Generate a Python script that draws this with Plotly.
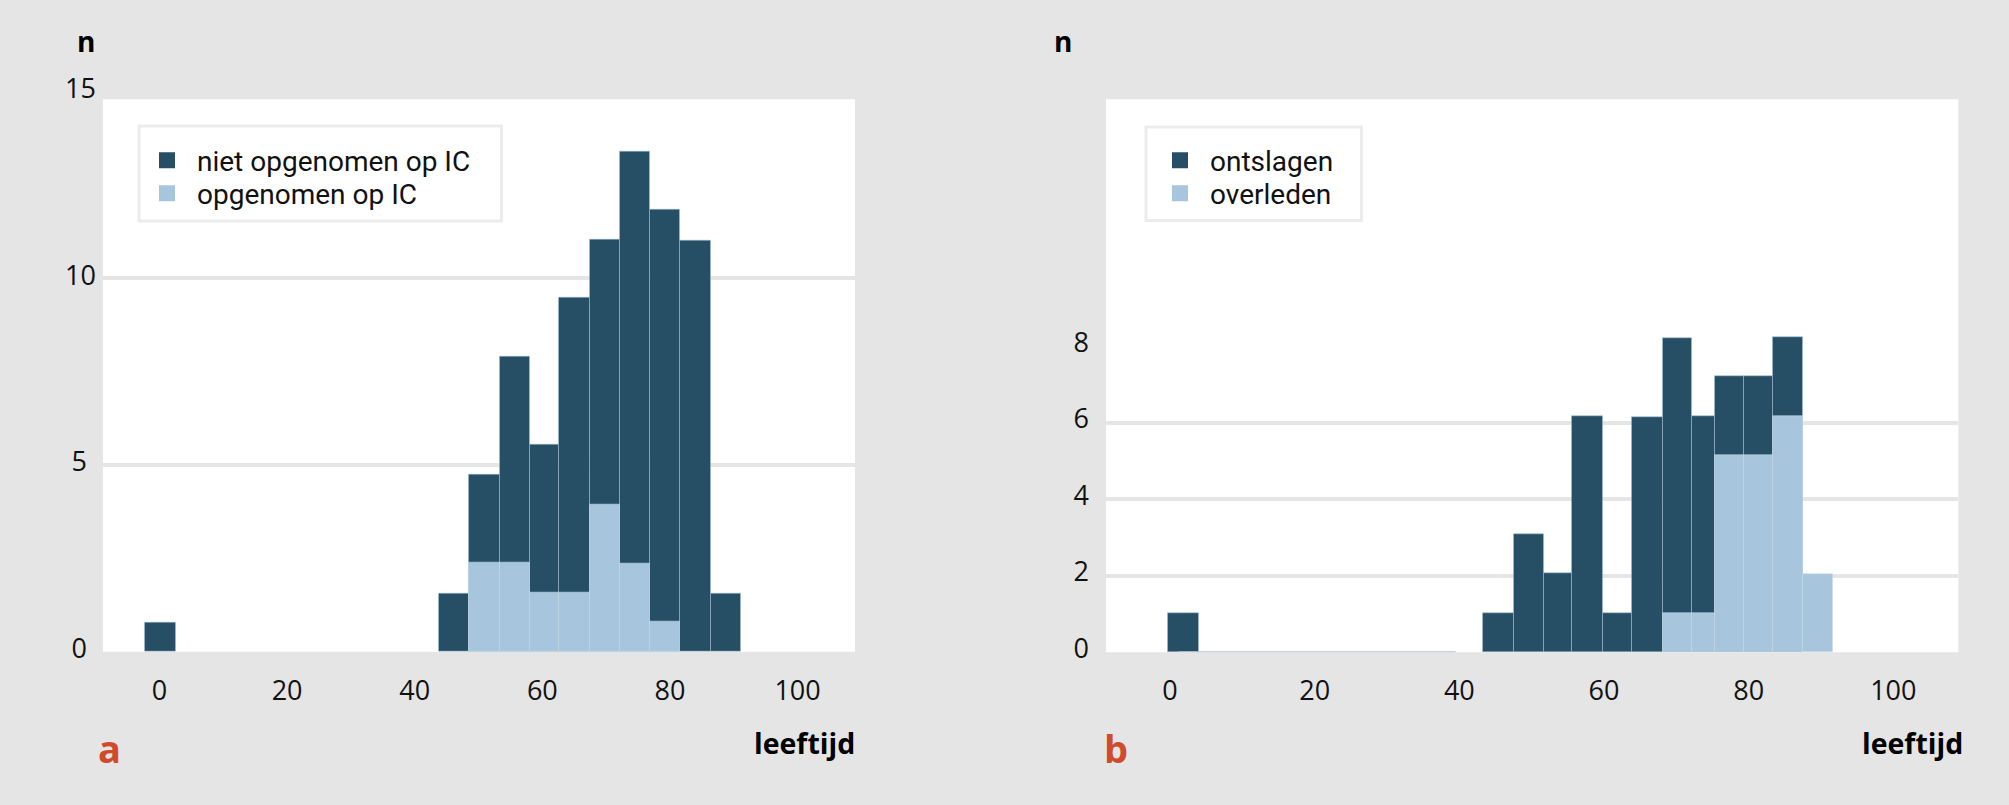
import plotly.graph_objects as go

# ---------------- data ----------------
# panel a: leeftijd bins (left/right edges) and heights
a_bin_left = [-2.3, 43.8, 48.5, 53.3, 58.0, 62.6, 67.4, 72.1, 76.9, 81.6, 86.4]
a_bin_right = [2.6, 48.5, 53.3, 58.0, 62.6, 67.4, 72.1, 76.9, 81.6, 86.4, 91.1]
a_niet_ic = [0.78, 1.55, 4.73, 7.89, 5.54, 9.49, 11.03, 13.39, 11.84, 11.0, 1.55]
a_ic_left = [48.5, 53.3, 58.0, 62.6, 67.4, 72.1, 76.9]
a_ic_right = [53.3, 58.0, 62.6, 67.4, 72.1, 76.9, 81.6]
a_ic = [2.38, 2.38, 1.58, 1.58, 3.93, 2.35, 0.8]

# panel b
b_ont_left = [-0.3, 43.3, 47.5, 51.7, 55.6, 59.8, 63.9, 68.1, 72.2, 75.4, 79.4, 83.3]
b_ont_right = [4.0, 47.5, 51.7, 55.6, 59.8, 63.9, 68.1, 72.2, 75.4, 79.4, 83.3, 87.5]
b_ont = [1.03, 1.03, 3.08, 2.06, 6.17, 1.03, 6.15, 8.2, 6.17, 7.2, 7.2, 8.23]
b_ovl_left = [68.1, 72.2, 75.4, 79.4, 83.3, 87.5]
b_ovl_right = [72.2, 75.4, 79.4, 83.3, 87.5, 91.6]
b_ovl = [1.03, 1.03, 5.15, 5.15, 6.17, 2.05]
b_ovl_empty = [1.2, 39.5]   # span of empty 'overleden' bins (count 0)

x_ticks = [0, 20, 40, 60, 80, 100]
a_y_ticks = [0, 5, 10, 15]
a_y_text = ["0\u2004", "5\u2004", "10", "15"]
b_y_ticks = [0, 2, 4, 6, 8]

legend_a = ["niet opgenomen op IC", "opgenomen op IC"]
legend_b = ["ontslagen", "overleden"]

# ---------------- styling ----------------
W, H = 2009, 805
DARK = "#264f66"
LIGHT = "#a7c5dc"
BG = "#e5e5e5"
GRID = "#e5e5e5"
FONT = "Open Sans"
LFONT = "Roboto"
FS = 27


def px(x):
    return x / W


def py(y):
    return 1 - y / H


def centers(l, r):
    return [(a + b) / 2 for a, b in zip(l, r)]


def widths(l, r):
    return [b - a for a, b in zip(l, r)]


fig = go.Figure()

edge_dark = dict(color="rgba(160,190,210,0.55)", width=1)
edge_light = dict(color="rgba(200,220,235,0.6)", width=1)

# panel a
fig.add_trace(go.Bar(x=centers(a_bin_left, a_bin_right), y=a_niet_ic,
                     width=widths(a_bin_left, a_bin_right), marker=dict(color=DARK, line=edge_dark),
                     showlegend=False, xaxis="x", yaxis="y", hoverinfo="x+y"))
fig.add_trace(go.Bar(x=centers(a_ic_left, a_ic_right), y=a_ic,
                     width=widths(a_ic_left, a_ic_right), marker=dict(color=LIGHT, line=edge_light),
                     showlegend=False, xaxis="x", yaxis="y", hoverinfo="x+y"))
# panel b
fig.add_trace(go.Bar(x=centers(b_ont_left, b_ont_right), y=b_ont,
                     width=widths(b_ont_left, b_ont_right), marker=dict(color=DARK, line=edge_dark),
                     showlegend=False, xaxis="x2", yaxis="y2", hoverinfo="x+y"))
fig.add_trace(go.Scatter(x=b_ovl_empty, y=[0] * len(b_ovl_empty), mode="lines",
                         line=dict(color="#b3c5d5", width=2), showlegend=False,
                         xaxis="x2", yaxis="y2", hoverinfo="skip"))
fig.add_trace(go.Bar(x=centers(b_ovl_left, b_ovl_right), y=b_ovl,
                     width=widths(b_ovl_left, b_ovl_right), marker=dict(color=LIGHT, line=edge_light),
                     showlegend=False, xaxis="x2", yaxis="y2", hoverinfo="x+y"))

# legend entries (one legend per row so the row spacing matches)
entries = [(legend_a[0], DARK, "legend", "x", "y"), (legend_a[1], LIGHT, "legend2", "x", "y"),
           (legend_b[0], DARK, "legend3", "x2", "y2"), (legend_b[1], LIGHT, "legend4", "x2", "y2")]
for name, col, lg, xa, ya in entries:
    fig.add_trace(go.Scatter(x=[None], y=[None], mode="markers", name=name,
                             marker=dict(symbol="square", size=19, color=col),
                             legend=lg, xaxis=xa, yaxis=ya))

x_common = dict(range=[-8.85, 109], tickvals=x_ticks, showgrid=False, zeroline=False,
                showline=False, ticks="", ticklabelstandoff=20, automargin=False,
                tickfont=dict(family=FONT, size=FS, color="#111"), fixedrange=True)

leg_common = dict(xanchor="left", yanchor="top", bgcolor="rgba(0,0,0,0)", borderwidth=0,
                  itemwidth=50, font=dict(family=LFONT, size=28, color="#111"))

fig.update_layout(
    width=W, height=H, autosize=False,
    margin=dict(l=0, r=0, t=0, b=0, autoexpand=False),
    paper_bgcolor=BG, plot_bgcolor=BG,
    barmode="overlay", bargap=0,
    font=dict(family=FONT, size=FS, color="#111"),
    xaxis=dict(domain=[px(103), px(855)], anchor="y", **x_common),
    xaxis2=dict(domain=[px(1106), px(1958.4)], anchor="y2", **x_common),
    yaxis=dict(domain=[py(651.7), py(91.7)], range=[0, 15], anchor="x",
               tickvals=a_y_ticks, ticktext=a_y_text, showgrid=False, zeroline=False,
               showline=False, ticks="", ticklabelstandoff=6, ticklabelshift=-3, automargin=False,
               minor=dict(tickvals=[5, 10], showgrid=True, gridcolor=GRID, gridwidth=4),
               tickfont=dict(family=FONT, size=FS, color="#111"), fixedrange=True),
    yaxis2=dict(domain=[py(652.3), py(99.3)], range=[0, 14.45], anchor="x2",
                tickvals=b_y_ticks, showgrid=False, zeroline=False,
                showline=False, ticks="", ticklabelstandoff=16, ticklabelshift=-4, automargin=False,
                minor=dict(tickvals=[2, 4, 6], showgrid=True, gridcolor=GRID, gridwidth=4),
                tickfont=dict(family=FONT, size=FS, color="#111"), fixedrange=True),
    legend=dict(x=px(137), y=py(135.5), **leg_common),
    legend2=dict(x=px(137), y=py(168.5), **leg_common),
    legend3=dict(x=px(1150), y=py(135.5), **leg_common),
    legend4=dict(x=px(1150), y=py(168.5), **leg_common),
    shapes=[
        # white plotting areas
        dict(type="rect", xref="paper", yref="paper", x0=px(103), x1=px(855),
             y0=py(651.7), y1=py(99.3), fillcolor="white", line=dict(width=0), layer="below"),
        dict(type="rect", xref="paper", yref="paper", x0=px(1106), x1=px(1958.4),
             y0=py(652.3), y1=py(99.3), fillcolor="white", line=dict(width=0), layer="below"),
        # legend boxes
        dict(type="rect", xref="paper", yref="paper", x0=px(139), x1=px(501.5),
             y0=py(221), y1=py(126), fillcolor="white", line=dict(color="#ececec", width=3), layer="below"),
        dict(type="rect", xref="paper", yref="paper", x0=px(1146), x1=px(1361.5),
             y0=py(220.5), y1=py(127), fillcolor="white", line=dict(color="#ececec", width=3), layer="below"),
    ],
    annotations=[
        dict(text="<b>n</b>", x=px(86), y=py(41), xref="paper", yref="paper", showarrow=False,
             xanchor="center", yanchor="middle", font=dict(family=FONT, size=28, color="#000")),
        dict(text="<b>n</b>", x=px(1062.5), y=py(41), xref="paper", yref="paper", showarrow=False,
             xanchor="center", yanchor="middle", font=dict(family=FONT, size=28, color="#000")),
        dict(text="<b>leeftijd</b>", x=px(857), y=py(743), xref="paper", yref="paper", showarrow=False,
             xanchor="right", yanchor="middle", font=dict(family=FONT, size=28.5, color="#000")),
        dict(text="<b>leeftijd</b>", x=px(1965), y=py(743), xref="paper", yref="paper", showarrow=False,
             xanchor="right", yanchor="middle", font=dict(family=FONT, size=28.5, color="#000")),
        dict(text="<b>a</b>", x=px(109), y=py(748), xref="paper", yref="paper", showarrow=False,
             xanchor="center", yanchor="middle", font=dict(family=FONT, size=38, color="#d24a2c")),
        dict(text="<b>b</b>", x=px(1115.5), y=py(748), xref="paper", yref="paper", showarrow=False,
             xanchor="center", yanchor="middle", font=dict(family=FONT, size=38, color="#d24a2c")),
    ],
)

fig.write_html("out.html", config={"displayModeBar": False},
               post_script="document.body.style.margin='0';document.body.style.overflow='hidden';")
